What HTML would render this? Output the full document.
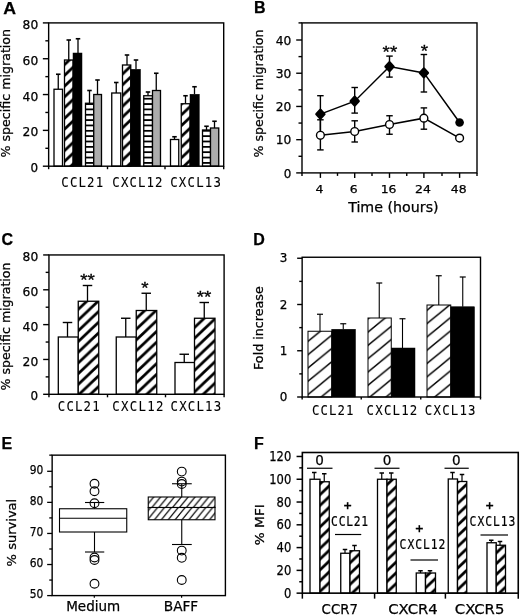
<!DOCTYPE html>
<html lang="en">
<head>
<meta charset="utf-8">
<title>Figure</title>
<style>
html,body{margin:0;padding:0;background:#fff;}
body{width:520px;height:616px;overflow:hidden;}
svg{display:block;}
text{white-space:pre;}
</style>
</head>
<body>
<svg width="520" height="616" viewBox="0 0 520 616">
<defs>
<pattern id="hA" patternUnits="userSpaceOnUse" width="11.316" height="10.750" patternTransform="translate(0 7.70)"><rect width="11.316" height="10.750" fill="#fff"/><path d="M-5.658,5.375 L5.658,-5.375 M-5.658,16.125 L16.974,-5.375 M5.658,16.125 L16.974,5.375" stroke="#000" stroke-width="2.68" fill="none"/></pattern>
<pattern id="hC" patternUnits="userSpaceOnUse" width="11.284" height="10.720" patternTransform="translate(0 8.50)"><rect width="11.284" height="10.720" fill="#fff"/><path d="M-5.642,5.360 L5.642,-5.360 M-5.642,16.080 L16.926,-5.360 M5.642,16.080 L16.926,5.360" stroke="#000" stroke-width="2.68" fill="none"/></pattern>
<pattern id="hF" patternUnits="userSpaceOnUse" width="11.316" height="10.750" patternTransform="translate(0 3.15)"><rect width="11.316" height="10.750" fill="#fff"/><path d="M-5.658,5.375 L5.658,-5.375 M-5.658,16.125 L16.974,-5.375 M5.658,16.125 L16.974,5.375" stroke="#000" stroke-width="2.68" fill="none"/></pattern>
<pattern id="hD" patternUnits="userSpaceOnUse" width="16.220" height="13.300" patternTransform="translate(0 8.70)"><rect width="16.220" height="13.300" fill="#fff"/><path d="M-8.110,6.650 L8.110,-6.650 M-8.110,19.950 L24.329,-6.650 M8.110,19.950 L24.329,6.650" stroke="#000" stroke-width="1.47" fill="none"/></pattern>
<pattern id="hE1" patternUnits="userSpaceOnUse" width="6.885" height="8.400" patternTransform="translate(0 4.10)"><rect width="6.885" height="8.400" fill="#fff"/><path d="M-3.443,4.200 L3.443,-4.200 M-3.443,12.600 L10.328,-4.200 M3.443,12.600 L10.328,4.200" stroke="#000" stroke-width="1.20" fill="none"/></pattern>
<pattern id="hE2" patternUnits="userSpaceOnUse" width="6.885" height="8.400" patternTransform="translate(0 2.60)"><rect width="6.885" height="8.400" fill="#fff"/><path d="M-3.443,4.200 L3.443,-4.200 M-3.443,12.600 L10.328,-4.200 M3.443,12.600 L10.328,4.200" stroke="#000" stroke-width="1.20" fill="none"/></pattern>
<pattern id="sA" patternUnits="userSpaceOnUse" width="10" height="5.35" patternTransform="translate(0 1.5)">
<rect width="10" height="5.35" fill="#fff"/>
<rect x="0" y="0" width="10" height="1.8" fill="#000"/>
</pattern>
</defs>
<rect x="0" y="0" width="520" height="616" fill="#fff"/>

<g id="panelA">
<text x="3.30" y="14.00" font-family='"Liberation Sans", "DejaVu Sans", sans-serif' font-size="16" text-anchor="start" fill="#000" stroke="#000" stroke-width="0.25" font-weight="bold" textLength="12.80" lengthAdjust="spacingAndGlyphs">A</text>
<line x1="58.25" y1="74.25" x2="58.25" y2="89.25" stroke="#000" stroke-width="1.3" />
<line x1="56.00" y1="74.25" x2="60.50" y2="74.25" stroke="#000" stroke-width="1.6" />
<rect x="54.00" y="89.25" width="8.50" height="76.95" fill="#fff" stroke="#000" stroke-width="1.3"/>
<line x1="68.75" y1="40.00" x2="68.75" y2="60.00" stroke="#000" stroke-width="1.3" />
<line x1="66.50" y1="40.00" x2="71.00" y2="40.00" stroke="#000" stroke-width="1.6" />
<rect x="64.50" y="60.00" width="8.50" height="106.20" fill="url(#hA)" stroke="#000" stroke-width="1.3"/>
<line x1="78.00" y1="38.75" x2="78.00" y2="53.00" stroke="#000" stroke-width="1.3" />
<line x1="75.75" y1="38.75" x2="80.25" y2="38.75" stroke="#000" stroke-width="1.6" />
<rect x="73.00" y="53.00" width="9.00" height="113.20" fill="#000" stroke="#000" stroke-width="0.5"/>
<line x1="89.50" y1="90.50" x2="89.50" y2="103.25" stroke="#000" stroke-width="1.3" />
<line x1="87.25" y1="90.50" x2="91.75" y2="90.50" stroke="#000" stroke-width="1.6" />
<rect x="85.50" y="103.25" width="8.25" height="62.95" fill="url(#sA)" stroke="#000" stroke-width="1.3"/>
<line x1="97.50" y1="80.00" x2="97.50" y2="94.50" stroke="#000" stroke-width="1.3" />
<line x1="95.25" y1="80.00" x2="99.75" y2="80.00" stroke="#000" stroke-width="1.6" />
<rect x="93.75" y="94.50" width="7.75" height="71.70" fill="#acacac" stroke="#000" stroke-width="1.3"/>
<line x1="116.25" y1="82.50" x2="116.25" y2="93.00" stroke="#000" stroke-width="1.3" />
<line x1="114.00" y1="82.50" x2="118.50" y2="82.50" stroke="#000" stroke-width="1.6" />
<rect x="111.75" y="93.00" width="9.00" height="73.20" fill="#fff" stroke="#000" stroke-width="1.3"/>
<line x1="127.00" y1="55.00" x2="127.00" y2="65.00" stroke="#000" stroke-width="1.3" />
<line x1="124.75" y1="55.00" x2="129.25" y2="55.00" stroke="#000" stroke-width="1.6" />
<rect x="122.50" y="65.00" width="8.25" height="101.20" fill="url(#hA)" stroke="#000" stroke-width="1.3"/>
<line x1="136.00" y1="60.00" x2="136.00" y2="69.25" stroke="#000" stroke-width="1.3" />
<line x1="133.75" y1="60.00" x2="138.25" y2="60.00" stroke="#000" stroke-width="1.6" />
<rect x="130.75" y="69.25" width="9.75" height="96.95" fill="#000" stroke="#000" stroke-width="0.5"/>
<line x1="148.00" y1="92.00" x2="148.00" y2="95.75" stroke="#000" stroke-width="1.3" />
<line x1="145.75" y1="92.00" x2="150.25" y2="92.00" stroke="#000" stroke-width="1.6" />
<rect x="143.75" y="95.75" width="8.75" height="70.45" fill="url(#sA)" stroke="#000" stroke-width="1.3"/>
<line x1="156.25" y1="73.25" x2="156.25" y2="90.50" stroke="#000" stroke-width="1.3" />
<line x1="154.00" y1="73.25" x2="158.50" y2="73.25" stroke="#000" stroke-width="1.6" />
<rect x="152.50" y="90.50" width="8.00" height="75.70" fill="#acacac" stroke="#000" stroke-width="1.3"/>
<line x1="174.50" y1="136.75" x2="174.50" y2="139.50" stroke="#000" stroke-width="1.3" />
<line x1="172.25" y1="136.75" x2="176.75" y2="136.75" stroke="#000" stroke-width="1.6" />
<rect x="170.50" y="139.50" width="8.25" height="26.70" fill="#fff" stroke="#000" stroke-width="1.3"/>
<line x1="185.50" y1="95.75" x2="185.50" y2="103.75" stroke="#000" stroke-width="1.3" />
<line x1="183.25" y1="95.75" x2="187.75" y2="95.75" stroke="#000" stroke-width="1.6" />
<rect x="181.25" y="103.75" width="8.75" height="62.45" fill="url(#hA)" stroke="#000" stroke-width="1.3"/>
<line x1="194.50" y1="86.75" x2="194.50" y2="94.25" stroke="#000" stroke-width="1.3" />
<line x1="192.25" y1="86.75" x2="196.75" y2="86.75" stroke="#000" stroke-width="1.6" />
<rect x="190.00" y="94.25" width="9.25" height="71.95" fill="#000" stroke="#000" stroke-width="0.5"/>
<line x1="206.50" y1="126.25" x2="206.50" y2="130.00" stroke="#000" stroke-width="1.3" />
<line x1="204.25" y1="126.25" x2="208.75" y2="126.25" stroke="#000" stroke-width="1.6" />
<rect x="202.50" y="130.00" width="8.00" height="36.20" fill="url(#sA)" stroke="#000" stroke-width="1.3"/>
<line x1="214.50" y1="121.25" x2="214.50" y2="128.00" stroke="#000" stroke-width="1.3" />
<line x1="212.25" y1="121.25" x2="216.75" y2="121.25" stroke="#000" stroke-width="1.6" />
<rect x="210.50" y="128.00" width="8.25" height="38.20" fill="#acacac" stroke="#000" stroke-width="1.3"/>
<rect x="48.65" y="22.90" width="175.05" height="143.30" fill="none" stroke="#000" stroke-width="1.4"/>
<line x1="42.85" y1="166.20" x2="48.65" y2="166.20" stroke="#000" stroke-width="1.4" />
<text x="38.20" y="172.30" font-family='"DejaVu Sans", "Liberation Sans", sans-serif' font-size="11.5" text-anchor="end" fill="#000" stroke="#000" stroke-width="0.25" textLength="7.60" lengthAdjust="spacingAndGlyphs">0</text>
<line x1="45.35" y1="148.29" x2="48.65" y2="148.29" stroke="#000" stroke-width="1.4" />
<line x1="42.85" y1="130.38" x2="48.65" y2="130.38" stroke="#000" stroke-width="1.4" />
<text x="38.20" y="136.47" font-family='"DejaVu Sans", "Liberation Sans", sans-serif' font-size="11.5" text-anchor="end" fill="#000" stroke="#000" stroke-width="0.25" textLength="15.60" lengthAdjust="spacingAndGlyphs">20</text>
<line x1="45.35" y1="112.46" x2="48.65" y2="112.46" stroke="#000" stroke-width="1.4" />
<line x1="42.85" y1="94.55" x2="48.65" y2="94.55" stroke="#000" stroke-width="1.4" />
<text x="38.20" y="100.65" font-family='"DejaVu Sans", "Liberation Sans", sans-serif' font-size="11.5" text-anchor="end" fill="#000" stroke="#000" stroke-width="0.25" textLength="15.60" lengthAdjust="spacingAndGlyphs">40</text>
<line x1="45.35" y1="76.64" x2="48.65" y2="76.64" stroke="#000" stroke-width="1.4" />
<line x1="42.85" y1="58.73" x2="48.65" y2="58.73" stroke="#000" stroke-width="1.4" />
<text x="38.20" y="64.83" font-family='"DejaVu Sans", "Liberation Sans", sans-serif' font-size="11.5" text-anchor="end" fill="#000" stroke="#000" stroke-width="0.25" textLength="15.60" lengthAdjust="spacingAndGlyphs">60</text>
<line x1="45.35" y1="40.81" x2="48.65" y2="40.81" stroke="#000" stroke-width="1.4" />
<line x1="42.85" y1="22.90" x2="48.65" y2="22.90" stroke="#000" stroke-width="1.4" />
<text x="38.20" y="29.00" font-family='"DejaVu Sans", "Liberation Sans", sans-serif' font-size="11.5" text-anchor="end" fill="#000" stroke="#000" stroke-width="0.25" textLength="15.60" lengthAdjust="spacingAndGlyphs">80</text>
<line x1="48.65" y1="166.20" x2="48.65" y2="169.20" stroke="#000" stroke-width="1.4" />
<line x1="107.50" y1="166.20" x2="107.50" y2="169.20" stroke="#000" stroke-width="1.4" />
<line x1="165.00" y1="166.20" x2="165.00" y2="169.20" stroke="#000" stroke-width="1.4" />
<line x1="223.70" y1="166.20" x2="223.70" y2="169.20" stroke="#000" stroke-width="1.4" />
<text transform="translate(61.37 186.80) scale(0.86 1)" x="0" y="0" font-family='"DejaVu Sans Mono", "Liberation Mono", monospace' font-size="14.4" letter-spacing="1.304" fill="#000" stroke="#000" stroke-width="0.1">CCL21</text>
<text transform="translate(112.37 186.80) scale(0.86 1)" x="0" y="0" font-family='"DejaVu Sans Mono", "Liberation Mono", monospace' font-size="14.4" letter-spacing="1.287" fill="#000" stroke="#000" stroke-width="0.1">CXCL12</text>
<text transform="translate(170.22 186.80) scale(0.86 1)" x="0" y="0" font-family='"DejaVu Sans Mono", "Liberation Mono", monospace' font-size="14.4" letter-spacing="1.403" fill="#000" stroke="#000" stroke-width="0.1">CXCL13</text>
<text x="10.20" y="93.20" font-family='"DejaVu Sans", "Liberation Sans", sans-serif' font-size="11.4" text-anchor="middle" fill="#000" stroke="#000" stroke-width="0.25" textLength="128.50" lengthAdjust="spacingAndGlyphs" transform="rotate(-90 10.20 93.20)">% specific migration</text>
</g>
<g id="panelB">
<text x="254.00" y="13.40" font-family='"Liberation Sans", "DejaVu Sans", sans-serif' font-size="16" text-anchor="start" fill="#000" stroke="#000" stroke-width="0.25" font-weight="bold">B</text>
<rect x="302.00" y="22.90" width="175.00" height="150.00" fill="none" stroke="#000" stroke-width="1.4"/>
<line x1="298.50" y1="22.90" x2="302.00" y2="22.90" stroke="#000" stroke-width="1.4" />
<line x1="296.20" y1="172.90" x2="302.00" y2="172.90" stroke="#000" stroke-width="1.4" />
<text x="291.40" y="177.50" font-family='"DejaVu Sans", "Liberation Sans", sans-serif' font-size="11.5" text-anchor="end" fill="#000" stroke="#000" stroke-width="0.25" textLength="7.60" lengthAdjust="spacingAndGlyphs">0</text>
<line x1="298.50" y1="156.29" x2="302.00" y2="156.29" stroke="#000" stroke-width="1.4" />
<line x1="296.20" y1="139.68" x2="302.00" y2="139.68" stroke="#000" stroke-width="1.4" />
<text x="291.40" y="144.28" font-family='"DejaVu Sans", "Liberation Sans", sans-serif' font-size="11.5" text-anchor="end" fill="#000" stroke="#000" stroke-width="0.25" textLength="15.60" lengthAdjust="spacingAndGlyphs">10</text>
<line x1="298.50" y1="123.06" x2="302.00" y2="123.06" stroke="#000" stroke-width="1.4" />
<line x1="296.20" y1="106.45" x2="302.00" y2="106.45" stroke="#000" stroke-width="1.4" />
<text x="291.40" y="111.05" font-family='"DejaVu Sans", "Liberation Sans", sans-serif' font-size="11.5" text-anchor="end" fill="#000" stroke="#000" stroke-width="0.25" textLength="15.60" lengthAdjust="spacingAndGlyphs">20</text>
<line x1="298.50" y1="89.84" x2="302.00" y2="89.84" stroke="#000" stroke-width="1.4" />
<line x1="296.20" y1="73.23" x2="302.00" y2="73.23" stroke="#000" stroke-width="1.4" />
<text x="291.40" y="77.83" font-family='"DejaVu Sans", "Liberation Sans", sans-serif' font-size="11.5" text-anchor="end" fill="#000" stroke="#000" stroke-width="0.25" textLength="15.60" lengthAdjust="spacingAndGlyphs">30</text>
<line x1="298.50" y1="56.61" x2="302.00" y2="56.61" stroke="#000" stroke-width="1.4" />
<line x1="296.20" y1="40.00" x2="302.00" y2="40.00" stroke="#000" stroke-width="1.4" />
<text x="291.40" y="44.60" font-family='"DejaVu Sans", "Liberation Sans", sans-serif' font-size="11.5" text-anchor="end" fill="#000" stroke="#000" stroke-width="0.25" textLength="15.60" lengthAdjust="spacingAndGlyphs">40</text>
<line x1="320.40" y1="172.90" x2="320.40" y2="177.90" stroke="#000" stroke-width="1.4" />
<text x="319.50" y="193.10" font-family='"DejaVu Sans", "Liberation Sans", sans-serif' font-size="11.3" text-anchor="middle" fill="#000" stroke="#000" stroke-width="0.25" textLength="7.90" lengthAdjust="spacingAndGlyphs">4</text>
<line x1="354.70" y1="172.90" x2="354.70" y2="177.90" stroke="#000" stroke-width="1.4" />
<text x="353.80" y="193.10" font-family='"DejaVu Sans", "Liberation Sans", sans-serif' font-size="11.3" text-anchor="middle" fill="#000" stroke="#000" stroke-width="0.25" textLength="7.90" lengthAdjust="spacingAndGlyphs">6</text>
<line x1="389.50" y1="172.90" x2="389.50" y2="177.90" stroke="#000" stroke-width="1.4" />
<text x="388.60" y="193.10" font-family='"DejaVu Sans", "Liberation Sans", sans-serif' font-size="11.3" text-anchor="middle" fill="#000" stroke="#000" stroke-width="0.25" textLength="15.80" lengthAdjust="spacingAndGlyphs">16</text>
<line x1="423.90" y1="172.90" x2="423.90" y2="177.90" stroke="#000" stroke-width="1.4" />
<text x="423.00" y="193.10" font-family='"DejaVu Sans", "Liberation Sans", sans-serif' font-size="11.3" text-anchor="middle" fill="#000" stroke="#000" stroke-width="0.25" textLength="15.80" lengthAdjust="spacingAndGlyphs">24</text>
<line x1="459.60" y1="172.90" x2="459.60" y2="177.90" stroke="#000" stroke-width="1.4" />
<text x="458.70" y="193.10" font-family='"DejaVu Sans", "Liberation Sans", sans-serif' font-size="11.3" text-anchor="middle" fill="#000" stroke="#000" stroke-width="0.25" textLength="15.80" lengthAdjust="spacingAndGlyphs">48</text>
<line x1="337.50" y1="172.90" x2="337.50" y2="175.90" stroke="#000" stroke-width="1.4" />
<line x1="372.00" y1="172.90" x2="372.00" y2="175.90" stroke="#000" stroke-width="1.4" />
<line x1="406.75" y1="172.90" x2="406.75" y2="175.90" stroke="#000" stroke-width="1.4" />
<line x1="442.00" y1="172.90" x2="442.00" y2="175.90" stroke="#000" stroke-width="1.4" />
<line x1="302.00" y1="172.90" x2="302.00" y2="175.90" stroke="#000" stroke-width="1.4" />
<line x1="477.00" y1="172.90" x2="477.00" y2="175.90" stroke="#000" stroke-width="1.4" />
<text x="393.40" y="211.60" font-family='"DejaVu Sans", "Liberation Sans", sans-serif' font-size="14" text-anchor="middle" fill="#000" stroke="#000" stroke-width="0.25" textLength="90.50" lengthAdjust="spacingAndGlyphs">Time (hours)</text>
<text x="262.50" y="93.50" font-family='"DejaVu Sans", "Liberation Sans", sans-serif' font-size="12.0" text-anchor="middle" fill="#000" stroke="#000" stroke-width="0.25" textLength="128.00" lengthAdjust="spacingAndGlyphs" transform="rotate(-90 262.50 93.50)">% specific migration</text>
<polyline fill="none" stroke="#000" stroke-width="1.5" points="320.40,114.10 354.70,101.20 389.50,66.55 423.90,72.90 459.60,122.50"/>
<polyline fill="none" stroke="#000" stroke-width="1.5" points="320.40,135.30 354.70,131.50 389.50,124.50 423.90,118.15 459.60,138.10"/>
<line x1="320.40" y1="95.70" x2="320.40" y2="133.00" stroke="#000" stroke-width="1.4" />
<line x1="317.15" y1="95.70" x2="323.65" y2="95.70" stroke="#000" stroke-width="1.4" />
<line x1="317.15" y1="133.00" x2="323.65" y2="133.00" stroke="#000" stroke-width="1.4" />
<line x1="354.70" y1="87.50" x2="354.70" y2="113.10" stroke="#000" stroke-width="1.4" />
<line x1="351.45" y1="87.50" x2="357.95" y2="87.50" stroke="#000" stroke-width="1.4" />
<line x1="351.45" y1="113.10" x2="357.95" y2="113.10" stroke="#000" stroke-width="1.4" />
<line x1="389.50" y1="56.10" x2="389.50" y2="77.10" stroke="#000" stroke-width="1.4" />
<line x1="386.25" y1="56.10" x2="392.75" y2="56.10" stroke="#000" stroke-width="1.4" />
<line x1="386.25" y1="77.10" x2="392.75" y2="77.10" stroke="#000" stroke-width="1.4" />
<line x1="423.90" y1="54.50" x2="423.90" y2="92.00" stroke="#000" stroke-width="1.4" />
<line x1="420.65" y1="54.50" x2="427.15" y2="54.50" stroke="#000" stroke-width="1.4" />
<line x1="420.65" y1="92.00" x2="427.15" y2="92.00" stroke="#000" stroke-width="1.4" />
<line x1="320.40" y1="119.80" x2="320.40" y2="149.90" stroke="#000" stroke-width="1.4" />
<line x1="317.15" y1="119.80" x2="323.65" y2="119.80" stroke="#000" stroke-width="1.4" />
<line x1="317.15" y1="149.90" x2="323.65" y2="149.90" stroke="#000" stroke-width="1.4" />
<line x1="354.70" y1="120.80" x2="354.70" y2="142.00" stroke="#000" stroke-width="1.4" />
<line x1="351.45" y1="120.80" x2="357.95" y2="120.80" stroke="#000" stroke-width="1.4" />
<line x1="351.45" y1="142.00" x2="357.95" y2="142.00" stroke="#000" stroke-width="1.4" />
<line x1="389.50" y1="115.75" x2="389.50" y2="134.25" stroke="#000" stroke-width="1.4" />
<line x1="386.25" y1="115.75" x2="392.75" y2="115.75" stroke="#000" stroke-width="1.4" />
<line x1="386.25" y1="134.25" x2="392.75" y2="134.25" stroke="#000" stroke-width="1.4" />
<line x1="423.90" y1="107.90" x2="423.90" y2="129.20" stroke="#000" stroke-width="1.4" />
<line x1="420.65" y1="107.90" x2="427.15" y2="107.90" stroke="#000" stroke-width="1.4" />
<line x1="420.65" y1="129.20" x2="427.15" y2="129.20" stroke="#000" stroke-width="1.4" />
<path d="M320.40,109.90 L324.30,114.10 L320.40,118.30 L316.50,114.10 Z" fill="#000" stroke="#000" stroke-width="2.6" stroke-linejoin="round"/>
<path d="M354.70,97.00 L358.60,101.20 L354.70,105.40 L350.80,101.20 Z" fill="#000" stroke="#000" stroke-width="2.6" stroke-linejoin="round"/>
<path d="M389.50,62.35 L393.40,66.55 L389.50,70.75 L385.60,66.55 Z" fill="#000" stroke="#000" stroke-width="2.6" stroke-linejoin="round"/>
<path d="M423.90,68.70 L427.80,72.90 L423.90,77.10 L420.00,72.90 Z" fill="#000" stroke="#000" stroke-width="2.6" stroke-linejoin="round"/>
<circle cx="459.60" cy="122.50" r="4.3" fill="#000"/>
<circle cx="320.40" cy="135.30" r="3.9" fill="#fff" stroke="#000" stroke-width="1.4"/>
<circle cx="354.70" cy="131.50" r="3.9" fill="#fff" stroke="#000" stroke-width="1.4"/>
<circle cx="389.50" cy="124.50" r="3.9" fill="#fff" stroke="#000" stroke-width="1.4"/>
<circle cx="423.90" cy="118.15" r="3.9" fill="#fff" stroke="#000" stroke-width="1.4"/>
<circle cx="459.60" cy="138.10" r="3.9" fill="#fff" stroke="#000" stroke-width="1.4"/>
<text x="389.90" y="57.70" font-family='"Liberation Sans", "DejaVu Sans", sans-serif' font-size="16.2" text-anchor="middle" fill="#000" stroke="#000" stroke-width="0.3" textLength="14.60" lengthAdjust="spacingAndGlyphs">**</text>
<text x="424.45" y="56.90" font-family='"Liberation Sans", "DejaVu Sans", sans-serif' font-size="16.2" text-anchor="middle" fill="#000" stroke="#000" stroke-width="0.3" textLength="7.30" lengthAdjust="spacingAndGlyphs">*</text>
</g>
<g id="panelC">
<text x="1.50" y="245.20" font-family='"Liberation Sans", "DejaVu Sans", sans-serif' font-size="16" text-anchor="start" fill="#000" stroke="#000" stroke-width="0.25" font-weight="bold">C</text>
<line x1="67.50" y1="322.50" x2="67.50" y2="337.00" stroke="#000" stroke-width="1.3" />
<line x1="62.75" y1="322.50" x2="72.25" y2="322.50" stroke="#000" stroke-width="1.4" />
<rect x="58.30" y="337.00" width="19.95" height="57.30" fill="#fff" stroke="#000" stroke-width="1.3"/>
<line x1="87.50" y1="285.50" x2="87.50" y2="301.25" stroke="#000" stroke-width="1.3" />
<line x1="82.75" y1="285.50" x2="92.25" y2="285.50" stroke="#000" stroke-width="1.4" />
<rect x="78.25" y="301.25" width="20.50" height="93.05" fill="url(#hC)" stroke="#000" stroke-width="1.3"/>
<line x1="125.75" y1="318.25" x2="125.75" y2="337.00" stroke="#000" stroke-width="1.3" />
<line x1="121.00" y1="318.25" x2="130.50" y2="318.25" stroke="#000" stroke-width="1.4" />
<rect x="116.25" y="337.00" width="20.00" height="57.30" fill="#fff" stroke="#000" stroke-width="1.3"/>
<line x1="146.25" y1="293.25" x2="146.25" y2="310.50" stroke="#000" stroke-width="1.3" />
<line x1="141.50" y1="293.25" x2="151.00" y2="293.25" stroke="#000" stroke-width="1.4" />
<rect x="136.25" y="310.50" width="20.50" height="83.80" fill="url(#hC)" stroke="#000" stroke-width="1.3"/>
<line x1="184.25" y1="354.25" x2="184.25" y2="362.50" stroke="#000" stroke-width="1.3" />
<line x1="179.50" y1="354.25" x2="189.00" y2="354.25" stroke="#000" stroke-width="1.4" />
<rect x="175.00" y="362.50" width="19.50" height="31.80" fill="#fff" stroke="#000" stroke-width="1.3"/>
<line x1="204.25" y1="302.50" x2="204.25" y2="318.25" stroke="#000" stroke-width="1.3" />
<line x1="199.50" y1="302.50" x2="209.00" y2="302.50" stroke="#000" stroke-width="1.4" />
<rect x="194.50" y="318.25" width="20.50" height="76.05" fill="url(#hC)" stroke="#000" stroke-width="1.3"/>
<rect x="48.95" y="254.95" width="175.15" height="139.35" fill="none" stroke="#000" stroke-width="1.4"/>
<line x1="43.15" y1="394.30" x2="48.95" y2="394.30" stroke="#000" stroke-width="1.4" />
<text x="38.20" y="400.40" font-family='"DejaVu Sans", "Liberation Sans", sans-serif' font-size="11.5" text-anchor="end" fill="#000" stroke="#000" stroke-width="0.25" textLength="7.60" lengthAdjust="spacingAndGlyphs">0</text>
<line x1="45.65" y1="376.88" x2="48.95" y2="376.88" stroke="#000" stroke-width="1.4" />
<line x1="43.15" y1="359.46" x2="48.95" y2="359.46" stroke="#000" stroke-width="1.4" />
<text x="38.20" y="365.56" font-family='"DejaVu Sans", "Liberation Sans", sans-serif' font-size="11.5" text-anchor="end" fill="#000" stroke="#000" stroke-width="0.25" textLength="15.60" lengthAdjust="spacingAndGlyphs">20</text>
<line x1="45.65" y1="342.04" x2="48.95" y2="342.04" stroke="#000" stroke-width="1.4" />
<line x1="43.15" y1="324.62" x2="48.95" y2="324.62" stroke="#000" stroke-width="1.4" />
<text x="38.20" y="330.73" font-family='"DejaVu Sans", "Liberation Sans", sans-serif' font-size="11.5" text-anchor="end" fill="#000" stroke="#000" stroke-width="0.25" textLength="15.60" lengthAdjust="spacingAndGlyphs">40</text>
<line x1="45.65" y1="307.21" x2="48.95" y2="307.21" stroke="#000" stroke-width="1.4" />
<line x1="43.15" y1="289.79" x2="48.95" y2="289.79" stroke="#000" stroke-width="1.4" />
<text x="38.20" y="295.89" font-family='"DejaVu Sans", "Liberation Sans", sans-serif' font-size="11.5" text-anchor="end" fill="#000" stroke="#000" stroke-width="0.25" textLength="15.60" lengthAdjust="spacingAndGlyphs">60</text>
<line x1="45.65" y1="272.37" x2="48.95" y2="272.37" stroke="#000" stroke-width="1.4" />
<line x1="43.15" y1="254.95" x2="48.95" y2="254.95" stroke="#000" stroke-width="1.4" />
<text x="38.20" y="261.05" font-family='"DejaVu Sans", "Liberation Sans", sans-serif' font-size="11.5" text-anchor="end" fill="#000" stroke="#000" stroke-width="0.25" textLength="15.60" lengthAdjust="spacingAndGlyphs">80</text>
<line x1="48.95" y1="394.30" x2="48.95" y2="397.30" stroke="#000" stroke-width="1.4" />
<line x1="107.50" y1="394.30" x2="107.50" y2="397.30" stroke="#000" stroke-width="1.4" />
<line x1="165.50" y1="394.30" x2="165.50" y2="397.30" stroke="#000" stroke-width="1.4" />
<line x1="224.10" y1="394.30" x2="224.10" y2="397.30" stroke="#000" stroke-width="1.4" />
<text transform="translate(57.87 411.20) scale(0.86 1)" x="0" y="0" font-family='"DejaVu Sans Mono", "Liberation Mono", monospace' font-size="14.4" letter-spacing="1.304" fill="#000" stroke="#000" stroke-width="0.1">CCL21</text>
<text transform="translate(112.37 411.20) scale(0.86 1)" x="0" y="0" font-family='"DejaVu Sans Mono", "Liberation Mono", monospace' font-size="14.4" letter-spacing="1.519" fill="#000" stroke="#000" stroke-width="0.1">CXCL12</text>
<text transform="translate(170.52 411.20) scale(0.86 1)" x="0" y="0" font-family='"DejaVu Sans Mono", "Liberation Mono", monospace' font-size="14.4" letter-spacing="1.403" fill="#000" stroke="#000" stroke-width="0.1">CXCL13</text>
<text x="10.20" y="326.50" font-family='"DejaVu Sans", "Liberation Sans", sans-serif' font-size="11.7" text-anchor="middle" fill="#000" stroke="#000" stroke-width="0.25" textLength="128.00" lengthAdjust="spacingAndGlyphs" transform="rotate(-90 10.20 326.50)">% specific migration</text>
<text x="87.60" y="286.40" font-family='"Liberation Sans", "DejaVu Sans", sans-serif' font-size="16.2" text-anchor="middle" fill="#000" stroke="#000" stroke-width="0.3" textLength="14.60" lengthAdjust="spacingAndGlyphs">**</text>
<text x="145.00" y="294.40" font-family='"Liberation Sans", "DejaVu Sans", sans-serif' font-size="16.2" text-anchor="middle" fill="#000" stroke="#000" stroke-width="0.3" textLength="7.30" lengthAdjust="spacingAndGlyphs">*</text>
<text x="204.00" y="303.40" font-family='"Liberation Sans", "DejaVu Sans", sans-serif' font-size="16.2" text-anchor="middle" fill="#000" stroke="#000" stroke-width="0.3" textLength="14.60" lengthAdjust="spacingAndGlyphs">**</text>
</g>
<g id="panelD">
<text x="253.20" y="244.60" font-family='"Liberation Sans", "DejaVu Sans", sans-serif' font-size="16" text-anchor="start" fill="#000" stroke="#000" stroke-width="0.25" font-weight="bold">D</text>
<line x1="320.00" y1="314.25" x2="320.00" y2="331.25" stroke="#000" stroke-width="1.1" />
<line x1="317.00" y1="314.25" x2="323.00" y2="314.25" stroke="#000" stroke-width="1.2" />
<rect x="308.00" y="331.25" width="23.75" height="65.75" fill="url(#hD)" stroke="#000" stroke-width="1.0"/>
<line x1="343.25" y1="323.75" x2="343.25" y2="329.25" stroke="#000" stroke-width="1.1" />
<line x1="340.25" y1="323.75" x2="346.25" y2="323.75" stroke="#000" stroke-width="1.2" />
<rect x="331.75" y="329.25" width="23.75" height="67.75" fill="#000" stroke="#000" stroke-width="0.5"/>
<line x1="379.25" y1="283.00" x2="379.25" y2="318.00" stroke="#000" stroke-width="1.1" />
<line x1="376.25" y1="283.00" x2="382.25" y2="283.00" stroke="#000" stroke-width="1.2" />
<rect x="368.00" y="318.00" width="23.25" height="79.00" fill="url(#hD)" stroke="#000" stroke-width="1.0"/>
<line x1="402.50" y1="318.75" x2="402.50" y2="348.00" stroke="#000" stroke-width="1.1" />
<line x1="399.50" y1="318.75" x2="405.50" y2="318.75" stroke="#000" stroke-width="1.2" />
<rect x="391.25" y="348.00" width="23.75" height="49.00" fill="#000" stroke="#000" stroke-width="0.5"/>
<line x1="438.75" y1="275.75" x2="438.75" y2="305.00" stroke="#000" stroke-width="1.1" />
<line x1="435.75" y1="275.75" x2="441.75" y2="275.75" stroke="#000" stroke-width="1.2" />
<rect x="427.00" y="305.00" width="23.75" height="92.00" fill="url(#hD)" stroke="#000" stroke-width="1.0"/>
<line x1="462.75" y1="277.00" x2="462.75" y2="306.75" stroke="#000" stroke-width="1.1" />
<line x1="459.75" y1="277.00" x2="465.75" y2="277.00" stroke="#000" stroke-width="1.2" />
<rect x="450.75" y="306.75" width="23.75" height="90.25" fill="#000" stroke="#000" stroke-width="0.5"/>
<rect x="302.15" y="257.25" width="178.35" height="139.75" fill="none" stroke="#000" stroke-width="1.4"/>
<line x1="297.15" y1="397.00" x2="302.15" y2="397.00" stroke="#000" stroke-width="1.4" />
<text x="287.40" y="401.20" font-family='"DejaVu Sans", "Liberation Sans", sans-serif' font-size="11.5" text-anchor="end" fill="#000" stroke="#000" stroke-width="0.25" textLength="7.60" lengthAdjust="spacingAndGlyphs">0</text>
<line x1="299.25" y1="373.88" x2="302.15" y2="373.88" stroke="#000" stroke-width="1.4" />
<line x1="297.15" y1="350.75" x2="302.15" y2="350.75" stroke="#000" stroke-width="1.4" />
<text x="287.40" y="354.95" font-family='"DejaVu Sans", "Liberation Sans", sans-serif' font-size="11.5" text-anchor="end" fill="#000" stroke="#000" stroke-width="0.25" textLength="7.60" lengthAdjust="spacingAndGlyphs">1</text>
<line x1="299.25" y1="327.62" x2="302.15" y2="327.62" stroke="#000" stroke-width="1.4" />
<line x1="297.15" y1="304.50" x2="302.15" y2="304.50" stroke="#000" stroke-width="1.4" />
<text x="287.40" y="308.70" font-family='"DejaVu Sans", "Liberation Sans", sans-serif' font-size="11.5" text-anchor="end" fill="#000" stroke="#000" stroke-width="0.25" textLength="7.60" lengthAdjust="spacingAndGlyphs">2</text>
<line x1="299.25" y1="281.38" x2="302.15" y2="281.38" stroke="#000" stroke-width="1.4" />
<line x1="297.15" y1="258.25" x2="302.15" y2="258.25" stroke="#000" stroke-width="1.4" />
<text x="287.40" y="262.45" font-family='"DejaVu Sans", "Liberation Sans", sans-serif' font-size="11.5" text-anchor="end" fill="#000" stroke="#000" stroke-width="0.25" textLength="7.60" lengthAdjust="spacingAndGlyphs">3</text>
<line x1="302.15" y1="397.00" x2="302.15" y2="399.50" stroke="#000" stroke-width="1.4" />
<line x1="361.25" y1="397.00" x2="361.25" y2="399.50" stroke="#000" stroke-width="1.4" />
<line x1="420.75" y1="397.00" x2="420.75" y2="399.50" stroke="#000" stroke-width="1.4" />
<line x1="480.50" y1="397.00" x2="480.50" y2="399.50" stroke="#000" stroke-width="1.4" />
<text transform="translate(312.12 415.00) scale(0.86 1)" x="0" y="0" font-family='"DejaVu Sans Mono", "Liberation Mono", monospace' font-size="14.4" letter-spacing="1.159" fill="#000" stroke="#000" stroke-width="0.1">CCL21</text>
<text transform="translate(366.62 415.00) scale(0.86 1)" x="0" y="0" font-family='"DejaVu Sans Mono", "Liberation Mono", monospace' font-size="14.4" letter-spacing="1.403" fill="#000" stroke="#000" stroke-width="0.1">CXCL12</text>
<text transform="translate(424.87 415.00) scale(0.86 1)" x="0" y="0" font-family='"DejaVu Sans Mono", "Liberation Mono", monospace' font-size="14.4" letter-spacing="1.403" fill="#000" stroke="#000" stroke-width="0.1">CXCL13</text>
<text x="263.10" y="328.10" font-family='"DejaVu Sans", "Liberation Sans", sans-serif' font-size="12" text-anchor="middle" fill="#000" stroke="#000" stroke-width="0.25" textLength="83.75" lengthAdjust="spacingAndGlyphs" transform="rotate(-90 263.10 328.10)">Fold increase</text>
</g>
<g id="panelE">
<text x="1.60" y="448.50" font-family='"Liberation Sans", "DejaVu Sans", sans-serif' font-size="16" text-anchor="start" fill="#000" stroke="#000" stroke-width="0.25" font-weight="bold">E</text>
<rect x="52.15" y="455.15" width="173.25" height="140.45" fill="none" stroke="#000" stroke-width="1.4"/>
<line x1="49.25" y1="455.15" x2="52.15" y2="455.15" stroke="#000" stroke-width="1.3" />
<line x1="47.15" y1="595.60" x2="52.15" y2="595.60" stroke="#000" stroke-width="1.3" />
<text x="43.30" y="598.20" font-family='"DejaVu Sans", "Liberation Sans", sans-serif' font-size="13" text-anchor="end" fill="#000" stroke="#000" stroke-width="0.25" textLength="13.60" lengthAdjust="spacingAndGlyphs">50</text>
<line x1="49.25" y1="580.06" x2="52.15" y2="580.06" stroke="#000" stroke-width="1.3" />
<line x1="47.15" y1="564.52" x2="52.15" y2="564.52" stroke="#000" stroke-width="1.3" />
<text x="43.30" y="567.12" font-family='"DejaVu Sans", "Liberation Sans", sans-serif' font-size="13" text-anchor="end" fill="#000" stroke="#000" stroke-width="0.25" textLength="13.60" lengthAdjust="spacingAndGlyphs">60</text>
<line x1="49.25" y1="548.99" x2="52.15" y2="548.99" stroke="#000" stroke-width="1.3" />
<line x1="47.15" y1="533.45" x2="52.15" y2="533.45" stroke="#000" stroke-width="1.3" />
<text x="43.30" y="536.05" font-family='"DejaVu Sans", "Liberation Sans", sans-serif' font-size="13" text-anchor="end" fill="#000" stroke="#000" stroke-width="0.25" textLength="13.60" lengthAdjust="spacingAndGlyphs">70</text>
<line x1="49.25" y1="517.91" x2="52.15" y2="517.91" stroke="#000" stroke-width="1.3" />
<line x1="47.15" y1="502.38" x2="52.15" y2="502.38" stroke="#000" stroke-width="1.3" />
<text x="43.30" y="504.98" font-family='"DejaVu Sans", "Liberation Sans", sans-serif' font-size="13" text-anchor="end" fill="#000" stroke="#000" stroke-width="0.25" textLength="13.60" lengthAdjust="spacingAndGlyphs">80</text>
<line x1="49.25" y1="486.84" x2="52.15" y2="486.84" stroke="#000" stroke-width="1.3" />
<line x1="47.15" y1="471.30" x2="52.15" y2="471.30" stroke="#000" stroke-width="1.3" />
<text x="43.30" y="473.90" font-family='"DejaVu Sans", "Liberation Sans", sans-serif' font-size="13" text-anchor="end" fill="#000" stroke="#000" stroke-width="0.25" textLength="13.60" lengthAdjust="spacingAndGlyphs">90</text>
<line x1="94.30" y1="595.60" x2="94.30" y2="597.80" stroke="#000" stroke-width="1.2" />
<line x1="181.60" y1="595.60" x2="181.60" y2="597.80" stroke="#000" stroke-width="1.2" />
<text x="93.20" y="611.40" font-family='"DejaVu Sans", "Liberation Sans", sans-serif' font-size="14" text-anchor="middle" fill="#000" stroke="#000" stroke-width="0.25" textLength="54.00" lengthAdjust="spacingAndGlyphs">Medium</text>
<text x="181.00" y="611.40" font-family='"DejaVu Sans", "Liberation Sans", sans-serif' font-size="14" text-anchor="middle" fill="#000" stroke="#000" stroke-width="0.25" textLength="34.50" lengthAdjust="spacingAndGlyphs">BAFF</text>
<text x="15.90" y="532.60" font-family='"DejaVu Sans", "Liberation Sans", sans-serif' font-size="12.6" text-anchor="middle" fill="#000" stroke="#000" stroke-width="0.25" textLength="67.60" lengthAdjust="spacingAndGlyphs" transform="rotate(-90 15.90 532.60)">% survival</text>
<line x1="94.50" y1="502.50" x2="94.50" y2="508.75" stroke="#000" stroke-width="1.1" />
<line x1="94.50" y1="532.00" x2="94.50" y2="552.00" stroke="#000" stroke-width="1.1" />
<line x1="85.00" y1="502.50" x2="104.25" y2="502.50" stroke="#000" stroke-width="1.1" />
<line x1="85.00" y1="552.00" x2="104.25" y2="552.00" stroke="#000" stroke-width="1.1" />
<rect x="59.50" y="508.75" width="67.25" height="23.25" fill="#fff" stroke="#000" stroke-width="1.1"/>
<line x1="59.50" y1="518.25" x2="126.75" y2="518.25" stroke="#000" stroke-width="1.1" />
<circle cx="94.5" cy="483.75" r="4.4" fill="none" stroke="#000" stroke-width="1.1"/>
<circle cx="94.5" cy="491.25" r="4.4" fill="none" stroke="#000" stroke-width="1.1"/>
<circle cx="94.5" cy="503.25" r="4.4" fill="none" stroke="#000" stroke-width="1.1"/>
<circle cx="94.5" cy="557.5" r="4.4" fill="none" stroke="#000" stroke-width="1.1"/>
<circle cx="94.5" cy="560.0" r="4.4" fill="none" stroke="#000" stroke-width="1.1"/>
<circle cx="94.5" cy="583.75" r="4.4" fill="none" stroke="#000" stroke-width="1.1"/>
<line x1="181.75" y1="483.75" x2="181.75" y2="497.00" stroke="#000" stroke-width="1.1" />
<line x1="181.75" y1="519.50" x2="181.75" y2="544.50" stroke="#000" stroke-width="1.1" />
<line x1="172.00" y1="483.75" x2="191.75" y2="483.75" stroke="#000" stroke-width="1.1" />
<line x1="172.00" y1="544.50" x2="191.75" y2="544.50" stroke="#000" stroke-width="1.1" />
<rect x="148.25" y="497.00" width="66.75" height="10.50" fill="url(#hE1)" stroke="#000" stroke-width="1.1"/>
<rect x="148.25" y="507.50" width="66.75" height="12.25" fill="url(#hE2)" stroke="#000" stroke-width="1.1"/>
<line x1="148.25" y1="507.50" x2="215.00" y2="507.50" stroke="#000" stroke-width="1.1" />
<circle cx="181.75" cy="471.6" r="4.4" fill="none" stroke="#000" stroke-width="1.1"/>
<circle cx="181.75" cy="481.6" r="4.4" fill="none" stroke="#000" stroke-width="1.1"/>
<circle cx="181.75" cy="484.0" r="4.4" fill="none" stroke="#000" stroke-width="1.1"/>
<circle cx="181.75" cy="550.6" r="4.4" fill="none" stroke="#000" stroke-width="1.1"/>
<circle cx="181.75" cy="557.8" r="4.4" fill="none" stroke="#000" stroke-width="1.1"/>
<circle cx="181.75" cy="580.0" r="4.4" fill="none" stroke="#000" stroke-width="1.1"/>
</g>
<g id="panelF">
<text x="254.00" y="448.90" font-family='"Liberation Sans", "DejaVu Sans", sans-serif' font-size="16" text-anchor="start" fill="#000" stroke="#000" stroke-width="0.25" font-weight="bold">F</text>
<line x1="314.25" y1="472.50" x2="314.25" y2="479.25" stroke="#000" stroke-width="1.2" />
<line x1="312.00" y1="472.50" x2="316.50" y2="472.50" stroke="#000" stroke-width="1.5" />
<rect x="310.00" y="479.25" width="10.00" height="113.90" fill="#fff" stroke="#000" stroke-width="1.3"/>
<line x1="324.25" y1="473.75" x2="324.25" y2="481.75" stroke="#000" stroke-width="1.2" />
<line x1="322.00" y1="473.75" x2="326.50" y2="473.75" stroke="#000" stroke-width="1.5" />
<rect x="320.00" y="481.75" width="9.25" height="111.40" fill="url(#hF)" stroke="#000" stroke-width="1.3"/>
<line x1="345.00" y1="549.50" x2="345.00" y2="553.25" stroke="#000" stroke-width="1.2" />
<line x1="342.75" y1="549.50" x2="347.25" y2="549.50" stroke="#000" stroke-width="1.5" />
<rect x="340.75" y="553.25" width="9.25" height="39.90" fill="#fff" stroke="#000" stroke-width="1.3"/>
<line x1="354.50" y1="545.50" x2="354.50" y2="550.75" stroke="#000" stroke-width="1.2" />
<line x1="352.25" y1="545.50" x2="356.75" y2="545.50" stroke="#000" stroke-width="1.5" />
<rect x="350.00" y="550.75" width="9.50" height="42.40" fill="url(#hF)" stroke="#000" stroke-width="1.3"/>
<line x1="381.75" y1="473.00" x2="381.75" y2="479.25" stroke="#000" stroke-width="1.2" />
<line x1="379.50" y1="473.00" x2="384.00" y2="473.00" stroke="#000" stroke-width="1.5" />
<rect x="377.50" y="479.25" width="9.50" height="113.90" fill="#fff" stroke="#000" stroke-width="1.3"/>
<line x1="391.25" y1="473.00" x2="391.25" y2="479.25" stroke="#000" stroke-width="1.2" />
<line x1="389.00" y1="473.00" x2="393.50" y2="473.00" stroke="#000" stroke-width="1.5" />
<rect x="387.00" y="479.25" width="9.25" height="113.90" fill="url(#hF)" stroke="#000" stroke-width="1.3"/>
<line x1="420.50" y1="570.75" x2="420.50" y2="573.00" stroke="#000" stroke-width="1.2" />
<line x1="418.25" y1="570.75" x2="422.75" y2="570.75" stroke="#000" stroke-width="1.5" />
<rect x="416.25" y="573.00" width="9.25" height="20.15" fill="#fff" stroke="#000" stroke-width="1.3"/>
<line x1="430.00" y1="570.75" x2="430.00" y2="573.00" stroke="#000" stroke-width="1.2" />
<line x1="427.75" y1="570.75" x2="432.25" y2="570.75" stroke="#000" stroke-width="1.5" />
<rect x="425.50" y="573.00" width="10.00" height="20.15" fill="url(#hF)" stroke="#000" stroke-width="1.3"/>
<line x1="452.50" y1="472.50" x2="452.50" y2="479.00" stroke="#000" stroke-width="1.2" />
<line x1="450.25" y1="472.50" x2="454.75" y2="472.50" stroke="#000" stroke-width="1.5" />
<rect x="448.25" y="479.00" width="9.25" height="114.15" fill="#fff" stroke="#000" stroke-width="1.3"/>
<line x1="462.00" y1="474.50" x2="462.00" y2="481.50" stroke="#000" stroke-width="1.2" />
<line x1="459.75" y1="474.50" x2="464.25" y2="474.50" stroke="#000" stroke-width="1.5" />
<rect x="457.50" y="481.50" width="9.25" height="111.65" fill="url(#hF)" stroke="#000" stroke-width="1.3"/>
<line x1="491.25" y1="540.25" x2="491.25" y2="542.75" stroke="#000" stroke-width="1.2" />
<line x1="489.00" y1="540.25" x2="493.50" y2="540.25" stroke="#000" stroke-width="1.5" />
<rect x="487.00" y="542.75" width="9.25" height="50.40" fill="#fff" stroke="#000" stroke-width="1.3"/>
<line x1="500.00" y1="541.50" x2="500.00" y2="545.25" stroke="#000" stroke-width="1.2" />
<line x1="497.75" y1="541.50" x2="502.25" y2="541.50" stroke="#000" stroke-width="1.5" />
<rect x="496.25" y="545.25" width="9.25" height="47.90" fill="url(#hF)" stroke="#000" stroke-width="1.3"/>
<rect x="302.35" y="452.50" width="215.90" height="140.65" fill="none" stroke="#000" stroke-width="1.6"/>
<line x1="296.55" y1="593.15" x2="302.35" y2="593.15" stroke="#000" stroke-width="1.5" />
<text x="291.30" y="597.75" font-family='"DejaVu Sans", "Liberation Sans", sans-serif' font-size="13.3" text-anchor="end" fill="#000" stroke="#000" stroke-width="0.25" textLength="7.35" lengthAdjust="spacingAndGlyphs">0</text>
<line x1="299.25" y1="581.76" x2="302.35" y2="581.76" stroke="#000" stroke-width="1.5" />
<line x1="296.55" y1="570.37" x2="302.35" y2="570.37" stroke="#000" stroke-width="1.5" />
<text x="291.30" y="574.97" font-family='"DejaVu Sans", "Liberation Sans", sans-serif' font-size="13.3" text-anchor="end" fill="#000" stroke="#000" stroke-width="0.25" textLength="14.70" lengthAdjust="spacingAndGlyphs">20</text>
<line x1="299.25" y1="558.98" x2="302.35" y2="558.98" stroke="#000" stroke-width="1.5" />
<line x1="296.55" y1="547.59" x2="302.35" y2="547.59" stroke="#000" stroke-width="1.5" />
<text x="291.30" y="552.19" font-family='"DejaVu Sans", "Liberation Sans", sans-serif' font-size="13.3" text-anchor="end" fill="#000" stroke="#000" stroke-width="0.25" textLength="14.70" lengthAdjust="spacingAndGlyphs">40</text>
<line x1="299.25" y1="536.20" x2="302.35" y2="536.20" stroke="#000" stroke-width="1.5" />
<line x1="296.55" y1="524.81" x2="302.35" y2="524.81" stroke="#000" stroke-width="1.5" />
<text x="291.30" y="529.41" font-family='"DejaVu Sans", "Liberation Sans", sans-serif' font-size="13.3" text-anchor="end" fill="#000" stroke="#000" stroke-width="0.25" textLength="14.70" lengthAdjust="spacingAndGlyphs">60</text>
<line x1="299.25" y1="513.42" x2="302.35" y2="513.42" stroke="#000" stroke-width="1.5" />
<line x1="296.55" y1="502.03" x2="302.35" y2="502.03" stroke="#000" stroke-width="1.5" />
<text x="291.30" y="506.63" font-family='"DejaVu Sans", "Liberation Sans", sans-serif' font-size="13.3" text-anchor="end" fill="#000" stroke="#000" stroke-width="0.25" textLength="14.70" lengthAdjust="spacingAndGlyphs">80</text>
<line x1="299.25" y1="490.64" x2="302.35" y2="490.64" stroke="#000" stroke-width="1.5" />
<line x1="296.55" y1="479.25" x2="302.35" y2="479.25" stroke="#000" stroke-width="1.5" />
<text x="291.30" y="483.85" font-family='"DejaVu Sans", "Liberation Sans", sans-serif' font-size="13.3" text-anchor="end" fill="#000" stroke="#000" stroke-width="0.25" textLength="22.05" lengthAdjust="spacingAndGlyphs">100</text>
<line x1="299.25" y1="467.86" x2="302.35" y2="467.86" stroke="#000" stroke-width="1.5" />
<line x1="296.55" y1="456.47" x2="302.35" y2="456.47" stroke="#000" stroke-width="1.5" />
<text x="291.30" y="461.07" font-family='"DejaVu Sans", "Liberation Sans", sans-serif' font-size="13.3" text-anchor="end" fill="#000" stroke="#000" stroke-width="0.25" textLength="22.05" lengthAdjust="spacingAndGlyphs">120</text>
<line x1="302.35" y1="593.15" x2="302.35" y2="598.65" stroke="#000" stroke-width="1.5" />
<line x1="374.60" y1="593.15" x2="374.60" y2="598.65" stroke="#000" stroke-width="1.5" />
<line x1="445.40" y1="593.15" x2="445.40" y2="598.65" stroke="#000" stroke-width="1.5" />
<line x1="518.25" y1="593.15" x2="518.25" y2="598.65" stroke="#000" stroke-width="1.5" />
<text x="339.75" y="614.40" font-family='"DejaVu Sans", "Liberation Sans", sans-serif' font-size="13.3" text-anchor="middle" fill="#000" stroke="#000" stroke-width="0.25" textLength="36.30" lengthAdjust="spacingAndGlyphs">CCR7</text>
<text x="413.00" y="614.40" font-family='"DejaVu Sans", "Liberation Sans", sans-serif' font-size="13.3" text-anchor="middle" fill="#000" stroke="#000" stroke-width="0.25" textLength="49.50" lengthAdjust="spacingAndGlyphs">CXCR4</text>
<text x="479.60" y="614.40" font-family='"DejaVu Sans", "Liberation Sans", sans-serif' font-size="13.3" text-anchor="middle" fill="#000" stroke="#000" stroke-width="0.25" textLength="49.50" lengthAdjust="spacingAndGlyphs">CXCR5</text>
<text x="264.30" y="524.70" font-family='"DejaVu Sans", "Liberation Sans", sans-serif' font-size="12.5" text-anchor="middle" fill="#000" stroke="#000" stroke-width="0.25" textLength="41.00" lengthAdjust="spacingAndGlyphs" transform="rotate(-90 264.30 524.70)">% MFI</text>
<line x1="307.00" y1="468.25" x2="332.50" y2="468.25" stroke="#000" stroke-width="1.2" />
<line x1="374.50" y1="468.25" x2="399.50" y2="468.25" stroke="#000" stroke-width="1.2" />
<line x1="444.50" y1="468.25" x2="468.75" y2="468.25" stroke="#000" stroke-width="1.2" />
<line x1="335.00" y1="534.50" x2="361.25" y2="534.50" stroke="#000" stroke-width="1.2" />
<line x1="410.50" y1="560.00" x2="438.00" y2="560.00" stroke="#000" stroke-width="1.2" />
<line x1="480.50" y1="535.00" x2="508.00" y2="535.00" stroke="#000" stroke-width="1.2" />
<text x="319.50" y="465.00" font-family='"DejaVu Sans", "Liberation Sans", sans-serif' font-size="13.2" text-anchor="middle" fill="#000" stroke="#000" stroke-width="0.25" textLength="8.60" lengthAdjust="spacingAndGlyphs">0</text>
<text x="387.00" y="465.00" font-family='"DejaVu Sans", "Liberation Sans", sans-serif' font-size="13.2" text-anchor="middle" fill="#000" stroke="#000" stroke-width="0.25" textLength="8.60" lengthAdjust="spacingAndGlyphs">0</text>
<text x="456.25" y="465.00" font-family='"DejaVu Sans", "Liberation Sans", sans-serif' font-size="13.2" text-anchor="middle" fill="#000" stroke="#000" stroke-width="0.25" textLength="8.60" lengthAdjust="spacingAndGlyphs">0</text>
<text transform="translate(331.12 526.10) scale(0.86 1)" x="0" y="0" font-family='"DejaVu Sans Mono", "Liberation Mono", monospace' font-size="13.2" letter-spacing="0.811" fill="#000" stroke="#000" stroke-width="0.2">CCL21</text>
<text transform="translate(399.62 548.60) scale(0.86 1)" x="0" y="0" font-family='"DejaVu Sans Mono", "Liberation Mono", monospace' font-size="13.2" letter-spacing="1.106" fill="#000" stroke="#000" stroke-width="0.2">CXCL12</text>
<text transform="translate(469.62 526.30) scale(0.86 1)" x="0" y="0" font-family='"DejaVu Sans Mono", "Liberation Mono", monospace' font-size="13.2" letter-spacing="1.106" fill="#000" stroke="#000" stroke-width="0.2">CXCL13</text>
<text x="347.50" y="508.90" font-family='"DejaVu Sans", "Liberation Sans", sans-serif' font-size="11" text-anchor="middle" fill="#000" stroke="#000" stroke-width="0.25" font-weight="bold">+</text>
<text x="419.25" y="531.60" font-family='"DejaVu Sans", "Liberation Sans", sans-serif' font-size="11" text-anchor="middle" fill="#000" stroke="#000" stroke-width="0.25" font-weight="bold">+</text>
<text x="489.50" y="509.10" font-family='"DejaVu Sans", "Liberation Sans", sans-serif' font-size="11" text-anchor="middle" fill="#000" stroke="#000" stroke-width="0.25" font-weight="bold">+</text>
</g>
</svg>
</body>
</html>
